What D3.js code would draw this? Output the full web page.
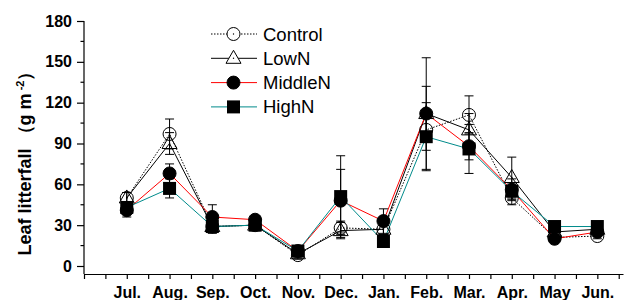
<!DOCTYPE html>
<head>
  <meta charset='utf-8'>
  <script src='https://d3js.org/d3.v7.min.js'></script>
  <style>
    body { margin: 0; background: #fff; }
    text { font-family: Arial, 'Liberation Sans', sans-serif; }
  </style>
</head>
<body>
<script>
const months = ['Jul.', 'Aug.', 'Sep.', 'Oct.', 'Nov.', 'Dec.', 'Jan.', 'Feb.', 'Mar.', 'Apr.', 'May', 'Jun.'];
const yTicks = [0, 30, 60, 90, 120, 150, 180];

const control = [50, 97, 29, 30, 8, 28, 27, 100, 111, 50, 21, 22];
const lowN    = [50, 90, 29, 30, 9, 26, 27, 112, 100, 65, 25, 27];
const middleN = [41, 68, 36, 34, 11, 48, 33, 112, 88, 56, 20, 25];
const highN   = [43, 57, 29, 30, 11, 51, 18, 95, 86, 55, 29, 29];

const controlErr = [4, 11, 4, 4, 3, 5, 4, 15, 14, 5, 2, 2];
const lowNErr    = [4, 8, 5, 4, 3, 6, 4, 20, 12, 15, 2, 2];
const middleNErr = [5, 7, 9, 3, 2, 23, 9, 41, 10, 8, 2, 2];
const highNErr   = [3, 7, 4, 4, 2, 30, 3, 25, 18, 6, 2, 2];

const series = [
  {name: 'Control', values: control, err: controlErr, color: '#000', dash: '1.5,1.5', marker: 'circle', fill: 'none'},
  {name: 'LowN', values: lowN, err: lowNErr, color: '#000', dash: null, marker: 'triangle', fill: 'none'},
  {name: 'MiddleN', values: middleN, err: middleNErr, color: '#ff0000', dash: null, marker: 'circle', fill: '#000'},
  {name: 'HighN', values: highN, err: highNErr, color: '#008b8b', dash: null, marker: 'square', fill: '#000'}
];

const width = 633, height = 300;
const svg = d3.select('body').append('svg').attr('width', width).attr('height', height);

const x = d3.scaleLinear().domain([0, 12.6]).range([84, 623]);
const y = d3.scaleLinear().domain([0, 180]).range([266, 21]);
const y0 = 274;

// axes
const xAxis = svg.append('g')
  .attr('transform', `translate(0,${y0})`)
  .call(d3.axisBottom(x).tickValues(d3.range(0, 13, 0.5)).tickSize(5).tickSizeOuter(0)
    .tickFormat(d => (Number.isInteger(d) && d >= 1) ? months[d - 1] : ''));
xAxis.select('.domain').attr('stroke-width', 1.2);
xAxis.selectAll('.tick line').attr('stroke-width', 1.2);
xAxis.selectAll('text').attr('font-size', 16).attr('font-weight', 'bold').attr('fill', '#000')
  .attr('y', 24).attr('dy', 0);

svg.append('line').attr('x1', 84).attr('x2', 84).attr('y1', y(180)).attr('y2', y0)
  .attr('stroke', '#000').attr('stroke-width', 1.2);

const yAxis = svg.append('g')
  .attr('transform', 'translate(84,0)')
  .call(d3.axisLeft(y).tickValues(yTicks).tickSize(7).tickPadding(5));
yAxis.select('.domain').remove();
yAxis.selectAll('.tick line').attr('stroke-width', 1.2);
yAxis.selectAll('text').attr('font-size', 16).attr('font-weight', 'bold').attr('fill', '#000');

svg.append('g').selectAll('line')
  .data(d3.range(15, 180, 30))
  .join('line')
  .attr('x1', 80.5).attr('x2', 84)
  .attr('y1', d => y(d)).attr('y2', d => y(d))
  .attr('stroke', '#000').attr('stroke-width', 1.2);

const yl = svg.append('text')
  .attr('transform', `translate(31,159) rotate(-90)`)
  .attr('text-anchor', 'middle')
  .attr('font-weight', 'bold')
  .attr('font-size', 18);
yl.append('tspan').text('Leaf litterfall \uFF08g m');
yl.append('tspan').attr('dy', -7).attr('font-size', 11).text(' -2');
yl.append('tspan').attr('dy', 7).text('\uFF09');

// lines
const line = d3.line().x((d, i) => x(i + 1)).y(d => y(d));

series.forEach(s => {
  svg.append('path')
    .datum(s.values)
    .attr('d', line)
    .attr('fill', 'none')
    .attr('stroke', s.color)
    .attr('stroke-width', 1)
    .attr('stroke-dasharray', s.dash);
});

// error bars
series.forEach(s => {
  const g = svg.append('g').attr('stroke', '#000').attr('stroke-width', 1);
  s.values.forEach((v, i) => {
    const cx = x(i + 1), top = y(v + s.err[i]), bot = y(v - s.err[i]);
    g.append('line').attr('x1', cx).attr('x2', cx).attr('y1', top).attr('y2', bot);
    g.append('line').attr('x1', cx - 4.5).attr('x2', cx + 4.5).attr('y1', top).attr('y2', top);
    g.append('line').attr('x1', cx - 4.5).attr('x2', cx + 4.5).attr('y1', bot).attr('y2', bot);
  });
});

function drawMarker(g, type, cx, cy, fill) {
  if (type === 'circle') {
    g.append('circle').attr('cx', cx).attr('cy', cy).attr('r', 6.5)
      .attr('fill', fill).attr('stroke', '#000').attr('stroke-width', 1);
  } else if (type === 'triangle') {
    g.append('path').attr('d', `M${cx},${cy - 8}L${cx + 7.5},${cy + 5}L${cx - 7.5},${cy + 5}Z`)
      .attr('fill', fill).attr('stroke', '#000').attr('stroke-width', 1);
  } else {
    g.append('rect').attr('x', cx - 6.5).attr('y', cy - 6.5).attr('width', 13).attr('height', 13)
      .attr('fill', fill);
  }
  if (fill !== '#000') {
    g.append('circle').attr('cx', cx).attr('cy', cy).attr('r', 0.7).attr('fill', '#000');
  }
}

series.forEach(s => {
  const g = svg.append('g');
  s.values.forEach((v, i) => drawMarker(g, s.marker, x(i + 1), y(v), s.fill));
});

// legend
const legend = svg.append('g');
series.forEach((s, i) => {
  const ly = 34 + i * 24.3;
  legend.append('line').attr('x1', 211).attr('x2', 257).attr('y1', ly).attr('y2', ly)
    .attr('stroke', s.color).attr('stroke-width', 1).attr('stroke-dasharray', s.dash);
  drawMarker(legend, s.marker, 233.5, ly, s.fill === 'none' ? '#fff' : s.fill);
  legend.append('text').attr('x', 263).attr('y', ly + 6.5)
    .attr('font-size', 18.5).text(s.name);
});
</script>
</body>
